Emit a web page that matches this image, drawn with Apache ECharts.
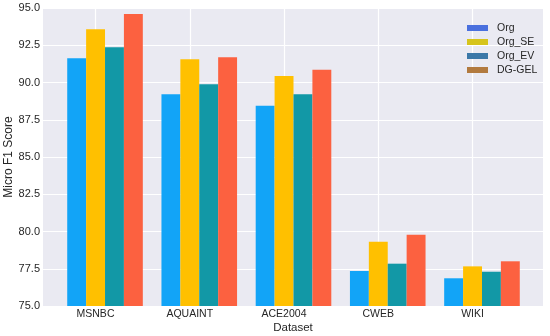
<!DOCTYPE html>
<html><head><meta charset="utf-8">
<script src="https://cdn.jsdelivr.net/npm/echarts@6/dist/echarts.min.js"></script>
<style>html,body{margin:0;padding:0;background:#fff}#c{width:550px;height:336px}</style>
</head><body><div id="c"></div>
<script>
const categories = ['MSNBC', 'AQUAINT', 'ACE2004', 'CWEB', 'WIKI'];
const seriesNames = ['Org', 'Org_SE', 'Org_EV', 'DG-GEL'];
const org    = [91.62, 89.21, 88.44, 77.35, 76.86];
const orgSE  = [93.57, 91.56, 90.44, 79.32, 77.66];
const orgEV  = [92.36, 89.88, 89.21, 77.84, 77.30];
const dgGel  = [94.60, 91.69, 90.86, 79.79, 78.00];
const yTicks = [75.0, 77.5, 80.0, 82.5, 85.0, 87.5, 90.0, 92.5, 95.0];

const barColors = ['#12a4f7', '#ffc000', '#1298a6', '#fc6140'];
const legendColors = ['#4a70de', '#d6c41c', '#3b78a8', '#b27a3e'];
const font = 'Liberation Sans, Arial, sans-serif';
const txt = '#262626';

const chart = echarts.init(document.getElementById('c'), null, {renderer: 'canvas'});
const seriesData = [org, orgSE, orgEV, dgGel];
const gTop = 8, gBottom = 30;
chart.setOption({
  animation: false,
  backgroundColor: '#ffffff',
  textStyle: {fontFamily: font},
  grid: [
    {left: 43, right: 7, top: gTop, bottom: gBottom, show: true, backgroundColor: '#eaeaf2', borderWidth: 0, outerBoundsMode: 'none', containLabel: false},
    {left: 95.5, right: 77.5, top: gTop, bottom: gBottom, outerBoundsMode: 'none', containLabel: false},
    {left: 57.9, right: 20.9, top: gTop, bottom: gBottom, outerBoundsMode: 'none', containLabel: false}
  ],
  xAxis: [
    {gridIndex: 0, type: 'value', min: 0, max: 1, axisLine: {show: false}, axisTick: {show: false},
     axisLabel: {show: false}, splitLine: {show: false},
     name: 'Dataset', nameLocation: 'middle', nameGap: 16,
     nameTextStyle: {fontSize: 11.5, color: txt, fontFamily: font}},
    {gridIndex: 1, type: 'value', min: 0, max: categories.length - 1, interval: 1,
     axisLine: {show: false}, axisTick: {show: false},
     axisLabel: {margin: 3, fontSize: 10.5, color: txt, fontFamily: font,
       formatter: v => categories[Math.round(v)] || ''},
     splitLine: {show: true, lineStyle: {color: '#ffffff', width: 1.2}}},
    {gridIndex: 2, type: 'category', data: categories, show: false}
  ],
  yAxis: [
    {gridIndex: 0, type: 'value', min: yTicks[0], max: yTicks[yTicks.length - 1], interval: 2.5,
     axisLine: {show: false}, axisTick: {show: false},
     axisLabel: {margin: 3, fontSize: 11, color: txt, fontFamily: font, formatter: v => v.toFixed(1)},
     splitLine: {show: true, lineStyle: {color: '#ffffff', width: 1.2}},
     name: 'Micro F1 Score', nameLocation: 'middle', nameGap: 28, nameMoveOverlap: false,
     nameTextStyle: {fontSize: 12, color: txt, fontFamily: font}},
    {gridIndex: 1, type: 'value', min: 75, max: 95, show: false},
    {gridIndex: 2, type: 'value', min: 75, max: 95, show: false}
  ],
  legend: {
    orient: 'vertical', left: 462, top: 17.5, itemWidth: 21, itemHeight: 6, itemGap: 3,
    icon: 'rect',
    textStyle: {fontSize: 10.5, color: txt, fontFamily: font, padding: [0, 0, 0, 4]},
    data: seriesNames.map((n, i) => ({name: n, itemStyle: {color: legendColors[i]}}))
  },
  series: seriesNames.map((n, i) => ({
    name: n, type: 'bar', xAxisIndex: 2, yAxisIndex: 2,
    data: seriesData[i], barWidth: 18.9, barGap: '0%',
    itemStyle: {color: barColors[i]}
  }))
});
</script></body></html>
